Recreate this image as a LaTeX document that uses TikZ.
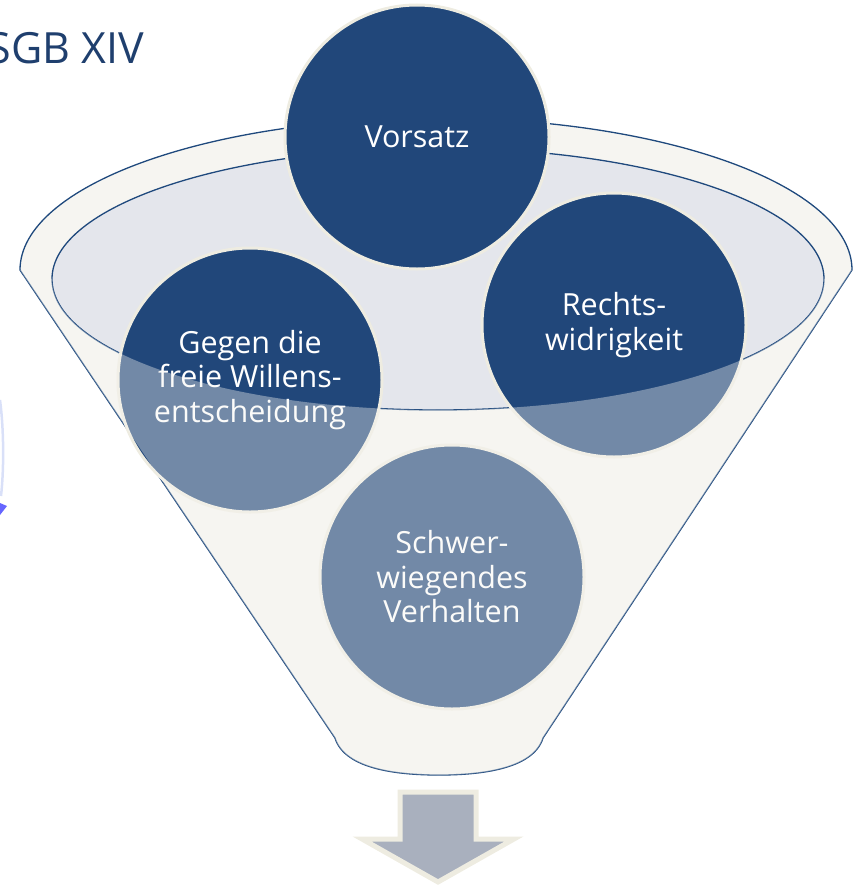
\documentclass[tikz,border=0pt]{standalone}
\usepackage{fontspec}
\setmainfont{Open Sans}
\definecolor{rimblue}{HTML}{1F497D}
\definecolor{dotblue}{HTML}{21477A}
\definecolor{cream}{HTML}{EEECE1}
\definecolor{funnelfill}{HTML}{F6F5F1}
\definecolor{bowlfill}{HTML}{E4E6EC}
\definecolor{arrowgray}{HTML}{A9B0BE}
\definecolor{titleblue}{HTML}{1F3F6E}
\definecolor{edgeblue}{HTML}{B4C2F2}
\begin{document}
\begin{tikzpicture}[x=1pt, y=-1pt,
		stage/.style={circle, minimum size=264pt, inner sep=0pt, fill=dotblue, draw=cream, line width=3pt, text=white, align=center, font=\fontsize{30.5}{34.5}\selectfont},
		rim/.style={draw=rimblue, line width=1.3pt}]
	\useasboundingbox (0,0) rectangle (854,886);
	\clip (0,0) rectangle (854,886);
	% funnel
	\draw[rim, fill=funnelfill] (20,270) arc[start angle=180, end angle=360, x radius=416, y radius=152] -- (543,738) .. controls (533,770) and (478,775) .. (439,775) .. controls (400,775) and (345,770) .. (335,738) -- cycle;
	\draw[rim, fill=bowlfill] (438,279) ellipse[x radius=386, y radius=131];
	% stages
	\node[stage] (vorsatz) at (417,137) {Vorsatz};
	\node[stage] (recht) at (614,325) {Rechts-\\widrigkeit};
	\node[stage] (wille) at (250,380) {Gegen die\\freie Willens-\\entscheidung};
	\node[stage] (verhalten) at (452,577) {Schwer-\\wiegendes\\Verhalten};
	% front of the funnel
	\fill[funnelfill, opacity=0.38] (20,270) -- (335,738) .. controls (345,770) and (400,775) .. (439,775) .. controls (478,775) and (533,770) .. (543,738) -- (852,270) -- (824,279) arc[start angle=0, end angle=180, x radius=386, y radius=131] -- cycle;
	% outlet arrow
	\draw[fill=arrowgray, draw=cream, line width=5pt] (400,792) -- (476,792) -- (476,839) -- (514,839) -- (438,882) -- (362,839) -- (400,839) -- cycle;
	\node[anchor=base east, text=titleblue, font=\fontsize{43}{50}\selectfont, inner sep=0pt] (titel) at (144,63) {SGB XIV};
	% cut-off piece at the left edge
	\draw[edgeblue, line width=2.5pt, opacity=0.5] (0,400) .. controls (4,430) and (4,470) .. (1,496);
	\fill[blue!60!white] (0,503) -- (7,506) -- (0,515) -- cycle;
\end{tikzpicture}
\end{document}
